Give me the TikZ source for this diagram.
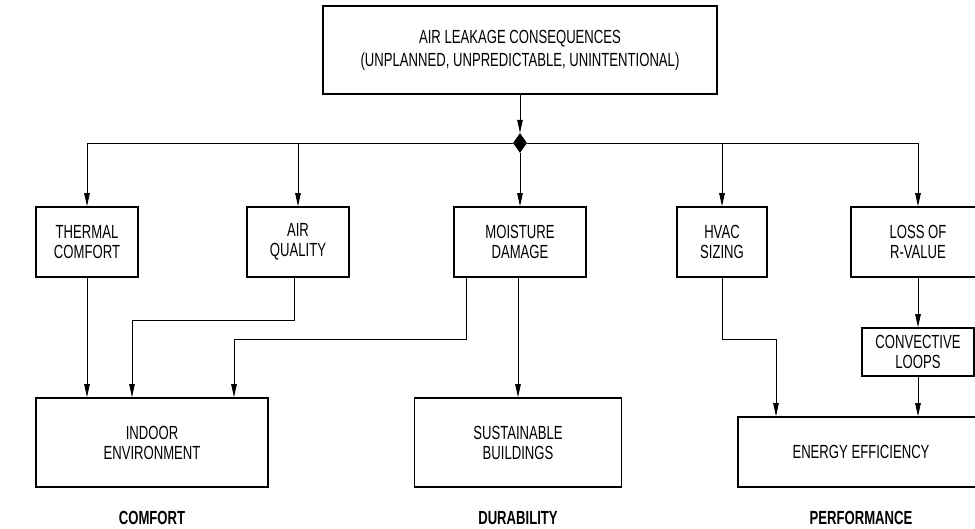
\documentclass[tikz,border=0pt]{standalone}
\usepackage{fontspec}
\setmainfont{Liberation Sans}[FakeStretch=0.69]
\usepackage{tikz}
\usetikzlibrary{shapes.geometric, arrows.meta, positioning, calc}

\begin{document}
\begin{tikzpicture}[x=1pt, y=-1pt,
    box/.style={rectangle, draw, line width=1.6pt, align=center, inner sep=0pt,
                font=\fontsize{19}{20}\selectfont},
    arr/.style={-{Triangle[length=13pt, width=5.5pt]}, line width=0.8pt},
    group/.style={font=\fontsize{19}{20}\selectfont\bfseries}]
    \useasboundingbox (0,0) rectangle (975,529);
    \clip (0,0) rectangle (975,529);

    \node (top) [box, minimum width=394pt, minimum height=88pt, font=\fontsize{19}{23}\selectfont] at (520,50)
        {AIR LEAKAGE CONSEQUENCES\\(UNPLANNED, UNPREDICTABLE, UNINTENTIONAL)};
    \node (split) [diamond, fill=black, inner sep=0pt, minimum width=14pt, minimum height=20pt] at (520,143) {};

    \node (thermal) [box, minimum width=102pt, minimum height=70pt] at (87,242) {THERMAL\\COMFORT};
    \node (airq) [box, minimum width=102pt, minimum height=70pt] at (298,242) {AIR\\QUALITY};
    \node (moist) [box, minimum width=132pt, minimum height=70pt] at (520,242) {MOISTURE\\DAMAGE};
    \node (hvac) [box, minimum width=90pt, minimum height=70pt] at (722,242) {HVAC\\SIZING};
    \node (loss) [box, minimum width=134pt, minimum height=70pt] at (918,242) {LOSS OF\\R-VALUE};
    \node (conv) [box, minimum width=112pt, minimum height=48pt] at (918,352) {CONVECTIVE\\LOOPS};

    \node (indoor) [box, minimum width=232pt, minimum height=89pt] at (152,442.5) {INDOOR\\ENVIRONMENT};
    \node (sust) [box, minimum width=207pt, minimum height=89pt] at (518,442.5) {SUSTAINABLE\\BUILDINGS};
    \node (energy) [box, minimum width=246pt, minimum height=70pt] at (861,452) {ENERGY EFFICIENCY};

    \node (comfort) [group] at (152,518) {COMFORT};
    \node (durab) [group] at (518,518) {DURABILITY};
    \node (perf) [group] at (861,518) {PERFORMANCE};

    \draw [arr] (top) -- (split);
    \draw [arr] (split.west) -| (thermal.north);
    \draw [arr] (split.west) -| (airq.north);
    \draw [arr] (split.south) -- (moist.north);
    \draw [arr] (split.east) -| (hvac.north);
    \draw [arr] (split.east) -| (loss.north);

    \draw [arr] (thermal.south) -- (thermal.south |- indoor.north);
    \draw [arr] ([xshift=-4pt]airq.south) -- ++(0,43) -| ([xshift=-20pt]indoor.north);
    \draw [arr] ([xshift=-54pt]moist.south) -- ++(0,62) -| ([xshift=82pt]indoor.north);
    \draw [arr] (sust.north |- moist.south) -- (sust.north);
    \draw [arr] (hvac.south) -- ++(0,62) -| ([xshift=-85pt]energy.north);
    \draw [arr] (loss) -- (conv);
    \draw [arr] (conv.south) -- (conv.south |- energy.north);
\end{tikzpicture}
\end{document}
